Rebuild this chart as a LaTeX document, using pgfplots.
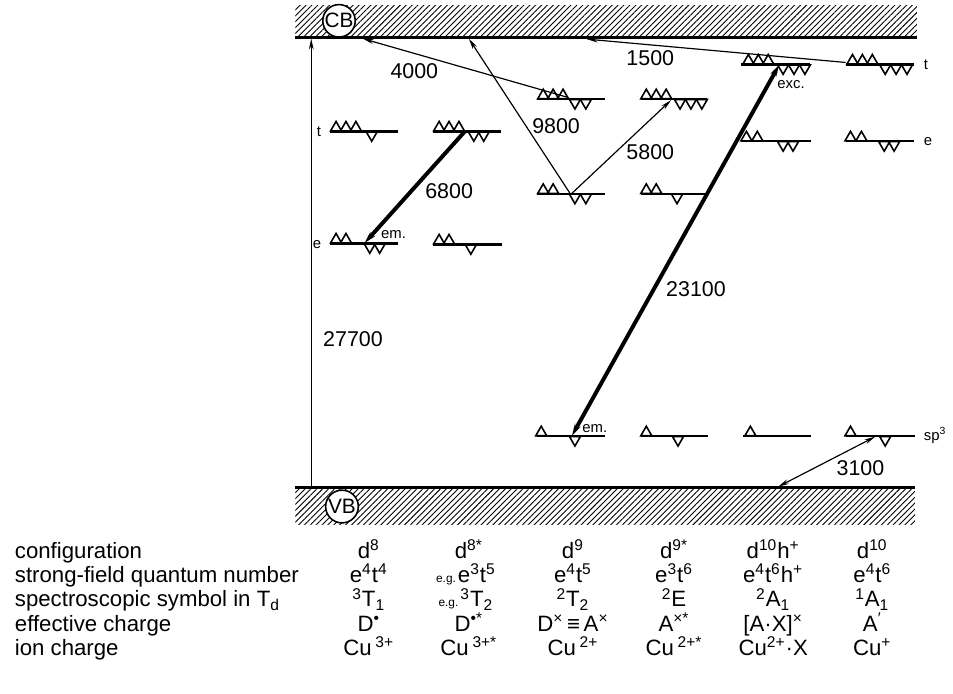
\documentclass[border=0pt]{standalone}
\usepackage{fontspec}
\setmainfont{Liberation Sans}
\usepackage{pgfplots}
\pgfplotsset{compat=1.18}
\usetikzlibrary{arrows.meta,patterns.meta}
\begin{document}
\begin{tikzpicture}[
  num/.style={font=\fontsize{10.8}{12}\selectfont},
  sm/.style={font=\fontsize{7.5}{8}\selectfont},
  tab/.style={font=\fontsize{11.2}{13}\selectfont, anchor=mid},
]
\begin{axis}[
  scale only axis, width=476.5pt, height=350pt,
  xmin=0, xmax=953, ymin=0, ymax=700, y dir=reverse,
  axis line style={draw=none}, xtick=\empty, ytick=\empty,
  clip=false,
  cycle list={{black,solid}},
  lev/.style={black, line width=1.2pt},
  up/.style={black, only marks, mark=triangle, mark size=3.2pt, mark options={line width=0.8pt, solid}},
  dn/.style={black, only marks, mark=triangle, mark size=3.2pt, mark options={line width=0.8pt, solid, rotate=180}},
  tarr/.style={black, line width=0.6pt, -{Stealth[length=5.5pt,width=2.4pt]}},
  karr/.style={black, line width=2pt},
]
% ---- bands ----
\addplot[draw=none, pattern={Lines[angle=45,distance=2.1pt,line width=0.45pt]}] coordinates {(298,6) (925,6) (925,38) (298,38)};
\addplot[black, line width=1.6pt] coordinates {(298,38) (925,38)};
\addplot[draw=none, pattern={Lines[angle=45,distance=2.1pt,line width=0.45pt]}] coordinates {(298,491.5) (923,491.5) (923,529) (298,529)};
\addplot[black, line width=1.6pt] coordinates {(298,491.5) (923,491.5)};

% ---- level lines ----
% d8
\addplot[lev] coordinates {(333,132.5) (402,132.5)};
\addplot[lev] coordinates {(333,245.5) (402,245.5)};
% d8*
\addplot[lev] coordinates {(437,132.5) (505,132.5)};
\addplot[lev] coordinates {(437,246.5) (506,246.5)};
% d9
\addplot[lev] coordinates {(542,100) (610,100)};
\addplot[lev] coordinates {(542,195.5) (610,195.5)};
\addplot[lev] coordinates {(542,440) (610,440)};
% d9*
\addplot[lev] coordinates {(647,100) (713,100)};
\addplot[lev] coordinates {(647,195.5) (713,195.5)};
\addplot[lev] coordinates {(647,440) (714,440)};
% d10 h+
\addplot[lev] coordinates {(748,65) (817,65)};
\addplot[lev] coordinates {(748,142.5) (818,142.5)};
\addplot[lev] coordinates {(750,440) (818,440)};
% d10
\addplot[lev] coordinates {(853,65) (922,65)};
\addplot[lev] coordinates {(853,142.5) (922,142.5)};
\addplot[lev] coordinates {(853,440) (923,440)};

% ---- electrons (up) ----
\addplot[up] coordinates {
 (339,128.9) (349,128.9) (359,128.9)
 (339,241.9) (349,241.9)
 (443,128.9) (453,128.9) (463,128.9)
 (443,242.9) (453,242.9)
 (548,96.4) (558,96.4) (568,96.4)
 (548,191.9) (558,191.9)
 (546,436.4)
 (652,96.4) (662,96.4) (672,96.4)
 (652,191.9) (662,191.9)
 (652,436.4)
 (755,61.4) (765,61.4) (775,61.4)
 (753,138.9) (764,138.9)
 (757,436.4)
 (860,61.4) (870,61.4) (880,61.4)
 (858,138.9) (869,138.9)
 (858,436.4)
};
% ---- holes / down spins ----
\addplot[dn] coordinates {
 (375,136.1)
 (373,249.1) (383,249.1)
 (478,136.1) (488,136.1)
 (475,250.1)
 (580,103.6) (591,103.6)
 (580,199.1) (591,199.1)
 (580,443.6)
 (686,103.6) (697,103.6) (708,103.6)
 (683,199.1)
 (684,443.6)
 (790,68.6) (801,68.6) (812,68.6)
 (790,146.1) (800,146.1)
 (893,68.6) (904,68.6) (915,68.6)
 (892,146.1) (902,146.1)
 (893,443.6)
};

% ---- transitions ----
\addplot[tarr] coordinates {(314,491.5) (314,39)};
\addplot[tarr] coordinates {(572,98) (366,39)};
\addplot[tarr] coordinates {(575,195) (473,39)};
\addplot[tarr] coordinates {(577,195) (677,101)};
\addplot[tarr] coordinates {(853,63) (592,39.5)};
\addplot[tarr, {Stealth[length=5.5pt,width=2.4pt]}-{Stealth[length=5.5pt,width=2.4pt]}] coordinates {(785,491) (883,440.5)};
\addplot[karr, -{Stealth[length=6pt,width=3.2pt]}] coordinates {(469,132.5) (368,245)};
\addplot[karr, {Stealth[length=6pt,width=3.2pt]}-{Stealth[length=6pt,width=3.2pt]}] coordinates {(577,439.5) (786,65.5)};

% ---- band labels ----
\node[circle, draw, fill=white, line width=0.8pt, inner sep=0pt, minimum size=15.5pt, font=\fontsize{10.5}{12}\selectfont] at (axis cs:342,21) {CB};
\node[circle, draw, fill=white, line width=0.8pt, inner sep=0pt, minimum size=16.5pt, font=\fontsize{10.5}{12}\selectfont] at (axis cs:345,511) {VB};

% ---- numbers ----
\node[num] at (axis cs:418,72) {4000};
\node[num] at (axis cs:656,59) {1500};
\node[num] at (axis cs:561,127) {9800};
\node[num] at (axis cs:656,153) {5800};
\node[num, anchor=west] at (axis cs:422,193) {6800};
\node[num, anchor=west] at (axis cs:665,292) {23100};
\node[num, anchor=west] at (axis cs:319,342) {27700};
\node[num] at (axis cs:868,472) {3100};

% ---- small labels ----
\node[sm, anchor=mid east] at (axis cs:331,132) {t};
\node[sm, anchor=mid east] at (axis cs:331,245) {e};
\node[sm, anchor=mid west] at (axis cs:925,65) {t};
\node[sm, anchor=mid west] at (axis cs:925,142) {e};
\node[sm, anchor=mid west] at (axis cs:925,439) {sp\textsuperscript{3}};
\node[sm] at (axis cs:397,237) {em.};
\node[sm] at (axis cs:600,432) {em.};
\node[sm] at (axis cs:798,85) {exc.};

% ---- table ----
\node[tab, anchor=mid west] at (axis cs:8,558) {configuration};
\node[tab, anchor=mid west] at (axis cs:8,582.5) {strong-field quantum number};
\node[tab, anchor=mid west] at (axis cs:8,607) {spectroscopic symbol in T\textsubscript{d}};
\node[tab, anchor=mid west] at (axis cs:8,631.5) {effective charge};
\node[tab, anchor=mid west] at (axis cs:8,656) {ion charge};

\node[tab] at (axis cs:372,558) {d\textsuperscript{8}};
\node[tab] at (axis cs:473,558) {d\textsuperscript{8*}};
\node[tab] at (axis cs:578,558) {d\textsuperscript{9}};
\node[tab] at (axis cs:680,558) {d\textsuperscript{9*}};
\node[tab] at (axis cs:780,558) {d\textsuperscript{10}h\textsuperscript{+}};
\node[tab] at (axis cs:880,558) {d\textsuperscript{10}};

\node[tab] at (axis cs:372,582.5) {e\textsuperscript{4}t\textsuperscript{4}};
\node[tab] at (axis cs:470,582.5) {{\fontsize{6}{7}\selectfont e.g.\,}e\textsuperscript{3}t\textsuperscript{5}};
\node[tab] at (axis cs:578,582.5) {e\textsuperscript{4}t\textsuperscript{5}};
\node[tab] at (axis cs:680,582.5) {e\textsuperscript{3}t\textsuperscript{6}};
\node[tab] at (axis cs:780,582.5) {e\textsuperscript{4}t\textsuperscript{6}h\textsuperscript{+}};
\node[tab] at (axis cs:880,582.5) {e\textsuperscript{4}t\textsuperscript{6}};

\node[tab] at (axis cs:372,607) {\textsuperscript{3}T\textsubscript{1}};
\node[tab] at (axis cs:470,607) {{\fontsize{6}{7}\selectfont e.g.\,}\textsuperscript{3}T\textsubscript{2}};
\node[tab] at (axis cs:578,607) {\textsuperscript{2}T\textsubscript{2}};
\node[tab] at (axis cs:680,607) {\textsuperscript{2}E};
\node[tab] at (axis cs:780,607) {\textsuperscript{2}A\textsubscript{1}};
\node[tab] at (axis cs:880,607) {\textsuperscript{1}A\textsubscript{1}};

\node[tab] at (axis cs:372,631.5) {D\textsuperscript{•}};
\node[tab] at (axis cs:473,631.5) {D\textsuperscript{•*}};
\node[tab] at (axis cs:578,631.5) {D\textsuperscript{×}\,≡\,A\textsuperscript{×}};
\node[tab] at (axis cs:680,631.5) {A\textsuperscript{×*}};
\node[tab] at (axis cs:780,631.5) {[A·X]\textsuperscript{×}};
\node[tab] at (axis cs:880,631.5) {A\textsuperscript{′}};

\node[tab] at (axis cs:372,656) {Cu\,\textsuperscript{3+}};
\node[tab] at (axis cs:473,656) {Cu\,\textsuperscript{3+*}};
\node[tab] at (axis cs:578,656) {Cu\,\textsuperscript{2+}};
\node[tab] at (axis cs:680,656) {Cu\,\textsuperscript{2+*}};
\node[tab] at (axis cs:780,656) {Cu\textsuperscript{2+}·X};
\node[tab] at (axis cs:880,656) {Cu\textsuperscript{+}};
\end{axis}
\end{tikzpicture}
\end{document}
